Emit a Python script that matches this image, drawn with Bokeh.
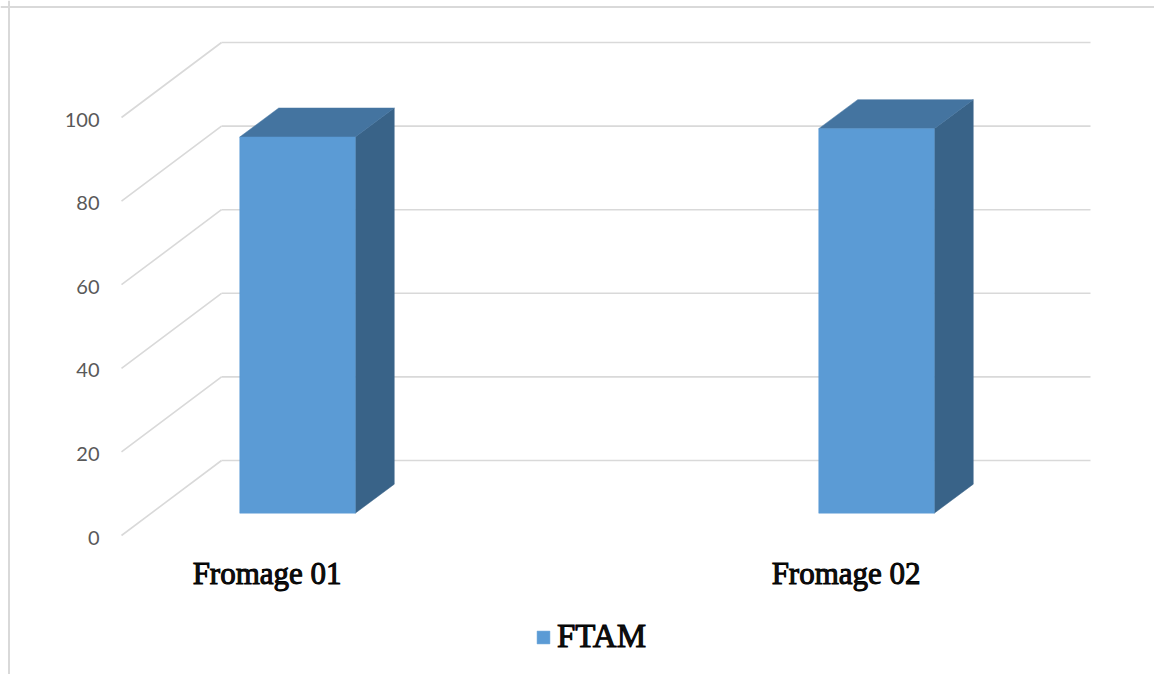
from bokeh.plotting import figure
from bokeh.models import Range1d, ColumnDataSource, Span, Legend, LegendItem
from bokeh.core.properties import value
from bokeh.embed import file_html
from bokeh.resources import INLINE

# ---- data ----
categories = ["Fromage 01", "Fromage 02"]
ftam = [90, 92]
y_ticks = [0, 20, 40, 60, 80, 100]
y_tick_labels = ["0", "20", "40", "60", "80", "100"]
series_name = "FTAM"

# ---- layout constants ----
W, H = 1154, 674
PX_PER_UNIT = 4.18
WALL_ZERO_PX = 460
Y_END = WALL_ZERO_PX / PX_PER_UNIT
Y_START = Y_END - H / PX_PER_UNIT

WALL_X0, WALL_X1 = 221, 1090
FLOOR_DX = -100
FLOOR_DY = -75 / PX_PER_UNIT
BAR_FRONT_DX = -69.6
BAR_FRONT_DY = -52.7 / PX_PER_UNIT
BAR_DEPTH_DX = 39
BAR_DEPTH_DY = 29 / PX_PER_UNIT
BAR_X0 = 297
BAR_STEP = 579
BAR_W = 115.5

FRONT_COLOR = "#5B9BD5"
TOP_COLOR = "#4474A0"
SIDE_COLOR = "#396388"
GRID_COLOR = "#D9D9D9"

p = figure(width=W, height=H, x_range=Range1d(0, W), y_range=Range1d(Y_START, Y_END),
           output_backend="svg", toolbar_location=None, min_border=0,
           x_axis_type=None, y_axis_type=None, outline_line_color=None,
           background_fill_color="white", border_fill_color="white")
p.grid.visible = False

# chart border (top and left edges)
p.add_layout(Span(location=8.5, dimension="height", line_color=GRID_COLOR, line_width=2))
p.add_layout(Span(location=Y_END - 6.5 / PX_PER_UNIT, dimension="width", line_color=GRID_COLOR, line_width=2))

n = len(y_ticks)
# back wall gridlines
p.segment(x0=[WALL_X0] * n, y0=y_ticks, x1=[WALL_X1] * n, y1=y_ticks,
          line_color=GRID_COLOR, line_width=1.6)
# side wall (diagonal) gridlines
p.segment(x0=[WALL_X0] * n, y0=y_ticks, x1=[WALL_X0 + FLOOR_DX] * n,
          y1=[t + FLOOR_DY for t in y_ticks], line_color=GRID_COLOR, line_width=1.6)

# tick labels
p.text(x=[WALL_X0 + FLOOR_DX] * n, y=[t + FLOOR_DY for t in y_ticks], text=y_tick_labels,
       x_offset=-22, y_offset=2, text_align="right", text_baseline="middle",
       text_font=value("Lato"), text_font_size="20px", text_color="#595959")

# bars
xc = [BAR_X0 + i * BAR_STEP for i in range(len(categories))]
left = [x - BAR_W / 2 for x in xc]
right = [x + BAR_W / 2 for x in xc]
bottom = [BAR_FRONT_DY] * len(ftam)
top = [v + BAR_FRONT_DY for v in ftam]

top_xs = [[l, r, r + BAR_DEPTH_DX, l + BAR_DEPTH_DX] for l, r in zip(left, right)]
top_ys = [[t, t, t + BAR_DEPTH_DY, t + BAR_DEPTH_DY] for t in top]
side_xs = [[r, r + BAR_DEPTH_DX, r + BAR_DEPTH_DX, r] for r in right]
side_ys = [[b, b + BAR_DEPTH_DY, t + BAR_DEPTH_DY, t] for b, t in zip(bottom, top)]

p.patches(xs=side_xs, ys=side_ys, fill_color=SIDE_COLOR, line_color=SIDE_COLOR, line_width=0.5)
p.patches(xs=top_xs, ys=top_ys, fill_color=TOP_COLOR, line_color=TOP_COLOR, line_width=0.5)
src = ColumnDataSource(dict(left=left, right=right, bottom=bottom, top=top, cat=categories, v=ftam))
front = p.quad(left="left", right="right", bottom="bottom", top="top", source=src,
               fill_color=FRONT_COLOR, line_color=FRONT_COLOR, line_width=0.5)

# category labels
label_x = [x + (FLOOR_DX - BAR_FRONT_DX) for x in xc]
p.text(x=label_x, y=[FLOOR_DY] * len(categories), text=categories, y_offset=38,
       text_align="center", text_baseline="middle",
       text_font=value("Liberation Serif"), text_font_size="31px",
       text_color="#111111", text_outline_color="black")

# legend
legend = Legend(items=[LegendItem(label=series_name, renderers=[front])],
                location=(535, 19), glyph_width=16, glyph_height=16, label_standoff=6,
                padding=0, margin=0, border_line_color=None, background_fill_alpha=0,
                label_text_font="Liberation Serif", label_text_font_size="33px",
                label_text_color="#111111", label_text_outline_color="black")
p.add_layout(legend)

open("out.html", "w").write(file_html(p, INLINE))
